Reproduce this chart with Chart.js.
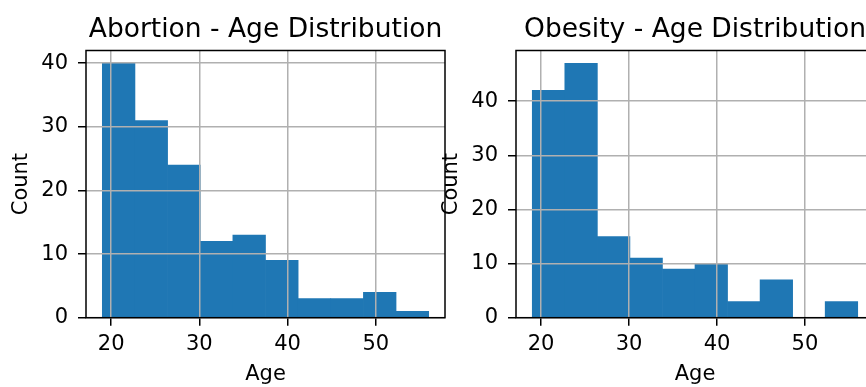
<!DOCTYPE html>
<html lang="en">

<head>
  <meta charset="UTF-8">
  <title>Age Distribution</title>
  <script src="https://cdn.jsdelivr.net/npm/chart.js@4.4.0/dist/chart.umd.min.js"></script>
  <style>
    html, body { margin: 0; padding: 0; width: 866px; height: 387px; overflow: hidden; background: #fff; }
    canvas { position: absolute; top: 0; }
    #abortionAge { left: 0; }
    #obesityAge { left: 430px; }
  </style>
</head>

<body>

  <canvas id="abortionAge" width="455" height="387"></canvas>
  <canvas id="obesityAge" width="454" height="387"></canvas>

  <script>
    // histogram bins (same edges for both panels, ages 19 -> 56)
    const binEdges = [19, 22.7, 26.4, 30.1, 33.8, 37.5, 41.2, 44.9, 48.6, 52.3, 56];
    const abortionCounts = [40, 31, 24, 12, 13, 9, 3, 3, 4, 1];
    const obesityCounts = [42, 47, 15, 11, 9, 10, 3, 7, 0, 3];

    // tick labels
    const ageTicks = [20, 30, 40, 50];
    const countTicks = [0, 10, 20, 30, 40];

    // axis limits (matplotlib's 5% margins)
    const ageRange = [17.15, 57.85];
    const abortionMax = 42;
    const obesityMax = 49.35;

    const font = 'DejaVu Sans';

    // black box round the plot area, like matplotlib spines
    const frame = {
      id: 'frame',
      afterDraw(chart) {
        const { ctx, chartArea: a } = chart;
        ctx.save();
        ctx.strokeStyle = '#000';
        ctx.lineWidth = 1.5;
        ctx.strokeRect(a.left, a.top, a.right - a.left, a.bottom - a.top);
        ctx.restore();
      }
    };

    function histChart(id, title, counts, yMax) {
      // one bar per bin, centred between its edges
      const points = counts.map((c, i) => ({ x: (binEdges[i] + binEdges[i + 1]) / 2, y: c }));
      const ctx = document.getElementById(id).getContext('2d');

      return new Chart(ctx, {
        type: 'bar',
        data: {
          datasets: [{
            data: points,
            backgroundColor: '#1f77b4',
            borderWidth: 0,
            barPercentage: 1,
            categoryPercentage: 1
          }]
        },
        plugins: [frame],
        options: {
          responsive: false,
          animation: false,
          layout: { padding: { left: 0, right: 10, top: 0, bottom: 0 } },
          plugins: {
            legend: { display: false },
            tooltip: { enabled: false },
            title: {
              display: true,
              text: title,
              fullSize: false,
              color: '#000',
              font: { family: font, size: 26.5, weight: 'normal' },
              padding: { top: 14, bottom: 4.7 }
            }
          },
          scales: {
            x: {
              type: 'linear',
              min: ageRange[0],
              max: ageRange[1],
              offset: false,
              grid: { offset: false, color: '#b0b0b0', lineWidth: 1.5, z: 1, tickColor: '#000', tickWidth: 1.5, tickLength: 8 },
              border: { display: false },
              afterBuildTicks: s => { s.ticks = ageTicks.map(v => ({ value: v })); },
              afterFit: s => { s.height = 69.3; },
              ticks: { color: '#000', padding: 6, font: { family: font, size: 21 } },
              title: { display: true, text: 'Age', color: '#000', padding: { top: 0, bottom: 0 }, font: { family: font, size: 21 } }
            },
            y: {
              min: 0,
              max: yMax,
              grid: { color: '#b0b0b0', lineWidth: 1.5, z: 1, tickColor: '#000', tickWidth: 1.5, tickLength: 8 },
              border: { display: false },
              afterBuildTicks: s => { s.ticks = countTicks.filter(v => v <= yMax).map(v => ({ value: v })); },
              afterFit: s => { s.width = 86; },
              ticks: { color: '#000', padding: 10, font: { family: font, size: 21 } },
              title: { display: true, text: 'Count', color: '#000', padding: { top: 9.4, bottom: 0 }, font: { family: font, size: 21 } }
            }
          }
        }
      });
    }

    histChart('abortionAge', 'Abortion - Age Distribution', abortionCounts, abortionMax);
    histChart('obesityAge', 'Obesity - Age Distribution', obesityCounts, obesityMax);
  </script>
</body>

</html>
